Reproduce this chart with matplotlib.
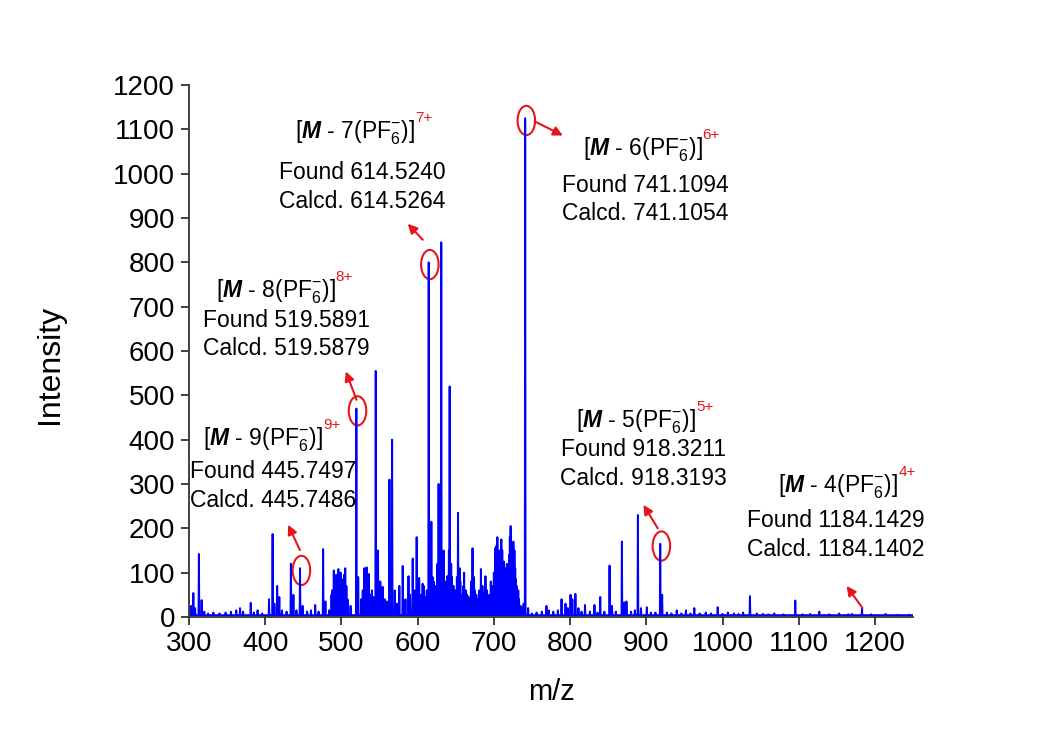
import matplotlib
matplotlib.use("Agg")
import matplotlib.pyplot as plt
from matplotlib.patches import Ellipse

plt.rcParams["font.family"] = ["Liberation Sans", "DejaVu Sans"]
plt.rcParams["mathtext.fontset"] = "custom"
plt.rcParams["mathtext.rm"] = "Liberation Sans"
plt.rcParams["mathtext.it"] = "Liberation Sans:italic"
plt.rcParams["mathtext.bf"] = "Liberation Sans:italic:bold"

# peak list (m/z, intensity)
peak_mz = [
    303, 305.7, 308, 313, 316.6, 320, 325, 332, 340, 348, 355, 362, 367, 371,
    381, 385, 390, 396, 405, 409.7, 412, 415.7, 418.5, 422, 428, 433.7, 437,
    441, 445.7, 449, 455, 460, 465.6, 470, 476, 479, 484, 488, 490, 493, 496,
    499, 502, 505, 508, 512, 519.6, 522, 526, 530, 533, 536, 540, 545, 548,
    551, 554, 557, 560, 563, 566.5, 570, 573, 576, 580.4, 584, 588, 590, 593.5,
    596, 598.7, 602, 605, 608, 614.5, 618, 621, 624, 627.5, 631, 634, 637, 639,
    642, 645, 648, 653, 656, 661, 665, 668, 672, 675, 679, 683, 686, 689, 692,
    696, 699, 701.6, 704.6, 707, 709.8, 713, 716, 718, 720, 722, 725.6, 727,
    729, 732, 735, 741.1, 745, 750, 756, 763, 769, 772, 778, 784, 788.8, 794,
    797, 800.6, 803, 807, 811, 815, 819.6, 826, 832, 836, 839.6, 845, 851.8,
    855, 860, 868, 871, 874, 880, 885, 889, 893, 900.7, 906, 912, 918.3, 920.8,
    927, 933, 940, 946, 952, 958, 963, 970, 978, 985, 993.7, 1000, 1007, 1015,
    1021, 1027, 1036, 1045, 1053, 1060, 1068, 1080, 1095.5, 1105, 1115, 1127,
    1140, 1153, 1165, 1170, 1183, 1195, 1214, 1230, 1245,
    # unresolved minor peaks in the crowded part
    487, 491.5, 494.5, 497.5, 500.5, 503.5, 506.5, 528, 531.5, 534.5, 538, 542,
    600, 604, 606.5, 610, 612, 616, 619.5, 623, 626, 629, 633, 636, 641, 644,
    647, 650, 651.5, 655, 658, 660, 663, 667, 670, 674, 677, 681, 685, 688,
    691, 694, 698, 700, 703, 706, 708.5, 711, 712, 714.5, 717, 719, 721,
    723.5, 724.5, 726.5, 728, 730, 731, 733, 737, 739,
]
peak_int = [
    25, 54, 20, 142, 38, 12, 8, 10, 8, 10, 12, 15, 20, 12,
    32, 10, 15, 8, 40, 187, 30, 70, 45, 15, 12, 120, 50,
    15, 110, 25, 12, 15, 27, 12, 153, 35, 15, 60, 105, 95, 108,
    100, 85, 110, 40, 25, 470, 90, 40, 110, 112, 97, 60, 555, 150,
    80, 68, 40, 35, 310, 400, 60, 30, 70, 115, 40, 92, 50, 132,
    60, 180, 88, 40, 70, 800, 215, 80, 60, 300, 845, 150, 70, 92,
    520, 90, 60, 235, 80, 100, 50, 40, 155, 60, 40, 108, 50, 92, 45,
    80, 60, 155, 180, 150, 175, 125, 100, 90, 140, 205, 170, 150,
    85, 60, 25, 1125, 20, 8, 10, 12, 25, 15, 12, 15, 40, 30,
    20, 50, 40, 52, 20, 12, 27, 12, 27, 10, 45, 12, 116,
    25, 12, 170, 33, 35, 12, 15, 230, 20, 22, 10, 10, 165, 50,
    10, 8, 15, 8, 15, 8, 20, 8, 10, 8, 22, 7, 10, 8,
    7, 10, 47, 8, 7, 6, 8, 6, 37, 6, 7, 12,
    6, 8, 6, 7, 20, 6, 7, 5, 5,
    50, 80, 70, 90, 75, 95, 70, 60, 90, 80, 50, 45,
    60, 50, 75, 45, 60, 150, 90, 70, 120, 180, 100, 80, 150, 120,
    70, 60, 90, 110, 50, 70, 60, 45, 80, 90, 50, 60, 70, 55,
    60, 50, 70, 100, 160, 120, 140, 150, 110, 110, 120, 110, 180,
    160, 140, 120, 110, 70, 50, 40, 20, 30,
]
baseline = 4

# build a stick trace from the peak list
peaks = sorted(zip(peak_mz, peak_int))
xs, ys = [300], [baseline]
for m, i in peaks:
    xs += [m - 0.5, m, m + 0.5]
    ys += [baseline, i, baseline]
xs.append(1250)
ys.append(baseline)

fig = plt.figure(figsize=(10.43, 7.31), dpi=100)
ax = fig.add_axes([0.1812, 0.156, 0.6942, 0.7277])
ax.plot(xs, ys, color="#0000ff", lw=1.4)

ax.set_xlim(300, 1250)
ax.set_ylim(0, 1200)
ax.set_xticks(range(300, 1201, 100))
ax.set_yticks(range(0, 1201, 100))
for s in ["top", "right"]:
    ax.spines[s].set_visible(False)
for s in ["left", "bottom"]:
    ax.spines[s].set_linewidth(1.3)
    ax.spines[s].set_color("#333333")
ax.tick_params(direction="out", length=6, width=1.3, labelsize=20,
               color="#333333", pad=4)
ax.set_xlabel("m/z", fontsize=21)
ax.set_ylabel("Intensity", fontsize=23)
ax.xaxis.set_label_coords(0.501, -0.115)
ax.yaxis.set_label_coords(-0.171, 0.474)

red = "#e8141c"
fs = 16.5


def label(n, x, y):
    # ion name with the charge in red
    t = ax.text(x, y, r"[$\mathbf{M}$ - %d(PF$_6^{-}$)]" % n, fontsize=fs,
                ha="center", va="center")
    ax.annotate("%d+" % n, xy=(1.0, 1.0), xycoords=t, fontsize=11,
                color=red, ha="left", va="center")


blocks = [
    (9, 397, 400, 411, 295, "445.7497", "445.7486"),
    (8, 414, 734, 428, 637, "519.5891", "519.5879"),
    (7, 518, 1093, 527, 970, "614.5240", "614.5264"),
    (6, 895, 1054, 899, 942, "741.1094", "741.1054"),
    (5, 887, 441, 896, 345, "918.3211", "918.3193"),
    (4, 1152, 294, 1149, 185, "1184.1429", "1184.1402"),
]
for n, x, y, bx, by, f, c in blocks:
    label(n, x, y)
    ax.text(bx, by, "Found %s\nCalcd. %s" % (f, c), fontsize=fs,
            ha="center", va="center", linespacing=1.3)

# circled peaks and arrows
circled = [(446, 110), (519.6, 470), (614.5, 800), (741.1, 1125), (918.3, 165)]
for m, i in circled:
    ax.add_patch(Ellipse((m + 1.5, i - 5), 23, 66, fill=False, ec=red, lw=1.5))

arrows = [
    ((445.5, 151), (430, 208)),
    ((519.8, 490), (505.8, 554)),
    ((606.7, 851), (587, 887)),
    ((753.5, 1118), (790.6, 1086)),
    ((915, 200), (896.3, 253)),
    ((1183.7, 20), (1162.8, 70)),
]
for tail, head in arrows:
    ax.annotate("", xy=head, xytext=tail,
                arrowprops=dict(arrowstyle="-|>", color=red, lw=1.5,
                                mutation_scale=14, shrinkA=0, shrinkB=0))

fig.savefig("out.png", dpi=100)
